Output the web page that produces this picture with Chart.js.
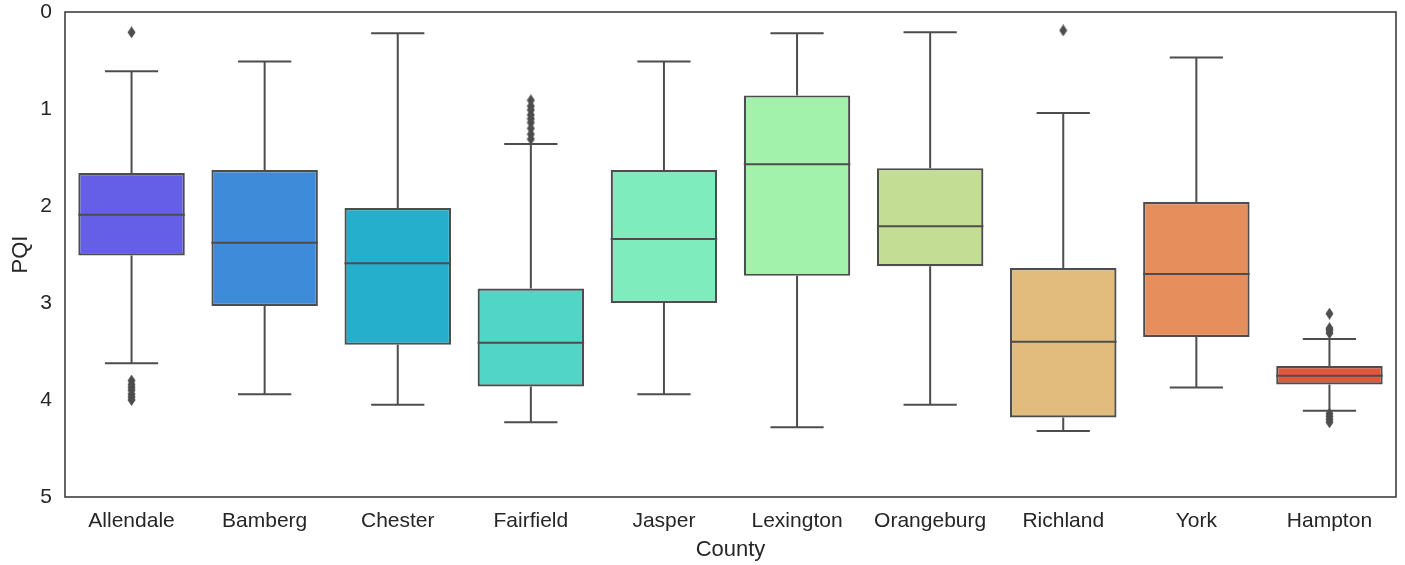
<!DOCTYPE html>
<html>
<head>
<meta charset="utf-8">
<script src="https://cdn.jsdelivr.net/npm/chart.js@4/dist/chart.umd.min.js"></script>
<style>
  html, body { margin: 0; padding: 0; background: #fff; }
  #wrap { width: 1405px; height: 565px; }
</style>
</head>
<body>
<div id="wrap"><canvas id="c" width="1405" height="565"></canvas></div>
<script>
// PQI distribution by county
const counties = ['Allendale', 'Bamberg', 'Chester', 'Fairfield', 'Jasper',
                  'Lexington', 'Orangeburg', 'Richland', 'York', 'Hampton'];
const whiskerLow = [0.61, 0.51, 0.22, 1.36, 0.51, 0.22, 0.21, 1.04, 0.47, 3.37];
const q1         = [1.66, 1.63, 2.02, 2.85, 1.63, 0.86, 1.61, 2.64, 1.96, 3.65];
const median     = [2.09, 2.38, 2.59, 3.41, 2.34, 1.57, 2.21, 3.40, 2.70, 3.75];
const q3         = [2.51, 3.03, 3.43, 3.86, 3.00, 2.72, 2.62, 4.18, 3.35, 3.84];
const whiskerHigh= [3.62, 3.94, 4.05, 4.23, 3.94, 4.28, 4.05, 4.32, 3.87, 4.11];
const outliers = [
  [0.21, 3.80, 3.84, 3.87, 3.90, 3.94, 3.97, 4.00],
  [],
  [],
  [0.91, 0.97, 1.01, 1.06, 1.10, 1.14, 1.20, 1.26, 1.31],
  [],
  [],
  [],
  [0.19],
  [],
  [3.11, 3.26, 3.28, 3.31, 4.14, 4.17, 4.20, 4.23]
];
const yTicks = [0, 1, 2, 3, 4, 5];

const boxColors = ['#655fe8', '#3e8bd9', '#25afcd', '#51d5c6', '#7eecbd',
                   '#a3f2ab', '#c3de94', '#e2bc7c', '#e68f5d', '#e2573c'];
const lineGray = '#4d4d4d';
const textGray = '#262626';
const FONT = "'Liberation Sans', Arial, sans-serif";

// thin diamond marker for outliers
function thinDiamond() {
  const cv = document.createElement('canvas');
  cv.width = 9; cv.height = 12;
  const g = cv.getContext('2d');
  g.fillStyle = lineGray;
  g.beginPath();
  g.moveTo(4.5, 0); g.lineTo(8.5, 6); g.lineTo(4.5, 12); g.lineTo(0.5, 6);
  g.closePath(); g.fill();
  return cv;
}

const outlierPoints = [];
outliers.forEach((vals, i) => vals.forEach(v => outlierPoints.push({x: counties[i], y: v})));

// whiskers, caps and median lines computed through the chart scales
const boxLines = {
  id: 'boxLines',
  beforeDatasetsDraw(chart) {
    const {ctx, scales: {x, y}} = chart;
    const meta = chart.getDatasetMeta(0);
    ctx.save();
    ctx.strokeStyle = lineGray;
    ctx.lineWidth = 2;
    counties.forEach((_, i) => {
      const cx = x.getPixelForValue(i);
      const half = meta.data[i].width / 4;
      const yLo = y.getPixelForValue(whiskerLow[i]);
      const yHi = y.getPixelForValue(whiskerHigh[i]);
      const yQ1 = y.getPixelForValue(q1[i]);
      const yQ3 = y.getPixelForValue(q3[i]);
      ctx.beginPath();
      ctx.moveTo(cx, yLo); ctx.lineTo(cx, yQ1);
      ctx.moveTo(cx, yQ3); ctx.lineTo(cx, yHi);
      ctx.moveTo(cx - half, yLo); ctx.lineTo(cx + half, yLo);
      ctx.moveTo(cx - half, yHi); ctx.lineTo(cx + half, yHi);
      ctx.stroke();
    });
    ctx.restore();
  },
  afterDatasetsDraw(chart) {
    const {ctx, scales: {x, y}} = chart;
    const meta = chart.getDatasetMeta(0);
    ctx.save();
    ctx.strokeStyle = lineGray;
    ctx.lineWidth = 2;
    counties.forEach((_, i) => {
      const cx = x.getPixelForValue(i);
      const half = meta.data[i].width / 2;
      const ym = y.getPixelForValue(median[i]);
      ctx.beginPath();
      ctx.moveTo(cx - half, ym); ctx.lineTo(cx + half, ym);
      ctx.stroke();
    });
    ctx.restore();
  },
  afterDraw(chart) {
    const {ctx, chartArea: a} = chart;
    ctx.save();
    ctx.strokeStyle = '#333333';
    ctx.lineWidth = 1.5;
    ctx.strokeRect(a.left, a.top, a.right - a.left, a.bottom - a.top);
    ctx.restore();
  }
};

new Chart(document.getElementById('c'), {
  type: 'bar',
  data: {
    labels: counties,
    datasets: [
      {
        type: 'bar',
        data: counties.map((_, i) => [q1[i], q3[i]]),
        backgroundColor: boxColors,
        borderColor: lineGray,
        borderWidth: 2.2,
        borderSkipped: false,
        barPercentage: 0.8,
        categoryPercentage: 1.0,
        order: 2
      },
      {
        type: 'line',
        data: outlierPoints,
        showLine: false,
        pointStyle: thinDiamond(),
        pointRadius: 4,
        order: 1
      }
    ]
  },
  options: {
    responsive: false,
    animation: false,
    events: [],
    layout: { padding: { top: 12, right: 9, left: 0, bottom: 0 } },
    plugins: { legend: { display: false }, tooltip: { enabled: false } },
    scales: {
      x: {
        type: 'category',
        offset: true,
        grid: { display: false, drawTicks: false },
        border: { display: false },
        ticks: { color: textGray, font: { family: FONT, size: 21 }, padding: 12, maxRotation: 0 },
        title: { display: true, text: 'County', color: textGray,
                 font: { family: FONT, size: 22 }, padding: { top: 0, bottom: 2 } },
        afterFit(s) {
          s.height = 68;
          s.paddingLeft = 0; s.paddingRight = 0;
        }
      },
      y: {
        reverse: true,
        min: 0,
        max: 5,
        afterBuildTicks(s) { s.ticks = yTicks.map(v => ({ value: v })); },
        grid: { display: false, drawTicks: false },
        border: { display: false },
        ticks: { color: textGray, font: { family: FONT, size: 21 }, padding: 13 },
        title: { display: true, text: 'PQI', color: textGray,
                 font: { family: FONT, size: 22 }, padding: { top: 8, bottom: 0 } },
        afterFit(s) {
          s.width = 65;
          s.paddingTop = 0; s.paddingBottom = 0;
        }
      }
    }
  },
  plugins: [boxLines]
});
</script>
</body>
</html>
